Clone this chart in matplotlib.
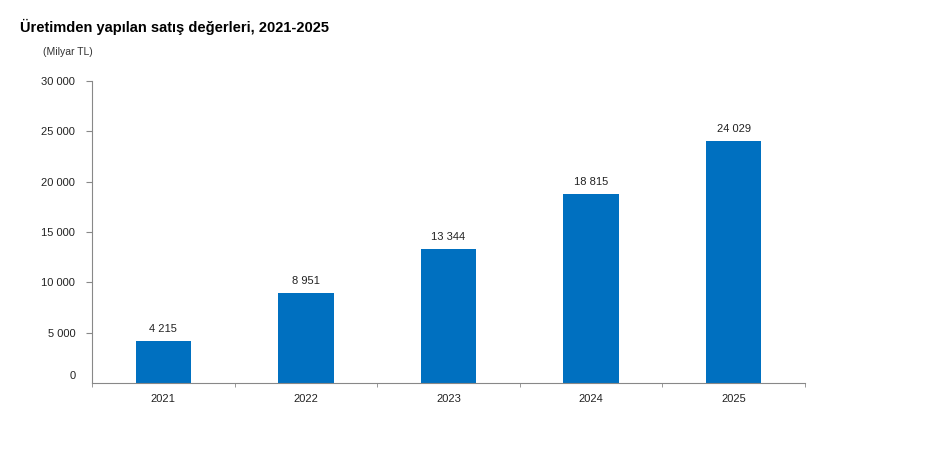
import matplotlib.pyplot as plt
import matplotlib.transforms as mtransforms
from matplotlib.ticker import FuncFormatter, FixedLocator

plt.rcParams['font.family'] = ['Liberation Sans', 'DejaVu Sans']

years = ['2021', '2022', '2023', '2024', '2025']
values = [4215, 8951, 13344, 18815, 24029]


def fmt(v, pos=None):
    return '{:,}'.format(int(v)).replace(',', ' ')


fig = plt.figure(figsize=(9.41, 4.69), dpi=100)
ax = fig.add_axes([0.0978, 0.1834, 0.7575, 0.6439])

x = list(range(len(years)))
bars = ax.bar(x, values, width=0.39, color='#0070C0', zorder=2)
for xi, v in zip(x, values):
    ax.text(xi, v + 700, fmt(v), ha='center', va='bottom', fontsize=8, color='#222222')

ax.set_xlim(-0.5, len(years) - 0.5)
ax.set_ylim(0, 30000)
ax.set_yticks(range(0, 30001, 5000))
ax.yaxis.set_major_formatter(FuncFormatter(fmt))
ax.set_xticks(x)
ax.set_xticklabels(years)
ax.tick_params(axis='x', length=0, labelsize=8, pad=8, colors='#222222')
ax.xaxis.set_minor_locator(FixedLocator([i - 0.5 for i in range(len(years) + 1)]))
ax.tick_params(axis='x', which='minor', length=3, color='#888888')
ax.tick_params(axis='y', length=4, labelsize=8, pad=8, color='#888888', labelcolor='#222222')

# the zero label sits a little above the axis line in the original
zero_lbl = ax.get_yticklabels()[0]
zero_lbl.set_transform(zero_lbl.get_transform() +
                       mtransforms.ScaledTranslation(0, 6 / 72, fig.dpi_scale_trans))
ax.yaxis.get_major_ticks()[0].tick1line.set_visible(False)

for s in ['top', 'right']:
    ax.spines[s].set_visible(False)
for s in ['left', 'bottom']:
    ax.spines[s].set_color('#888888')
    ax.spines[s].set_linewidth(0.8)

fig.text(0.021, 0.943, 'Üretimden yapılan satış değerleri, 2021-2025',
         fontsize=10.5, fontweight='bold', ha='left', va='center')
fig.text(0.046, 0.889, '(Milyar TL)', fontsize=7.5, ha='left', va='center', color='#333333')

fig.savefig('out.png', dpi=100)
